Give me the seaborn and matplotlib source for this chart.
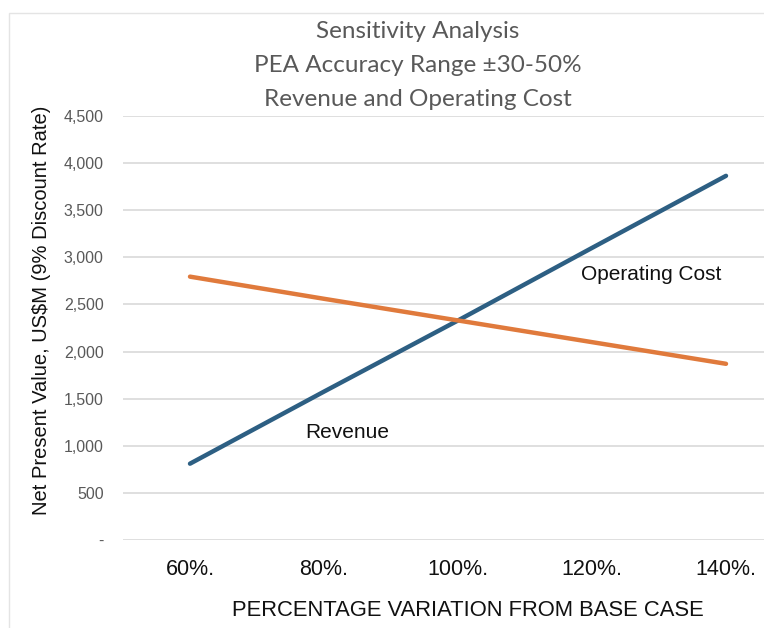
import matplotlib
matplotlib.use("Agg")
import matplotlib.pyplot as plt
import matplotlib.ticker as mticker
import seaborn as sns
import pandas as pd

categories = ["60%.", "80%.", "100%.", "120%.", "140%."]
revenue = [810, 1575, 2330, 3100, 3865]
operating_cost = [2795, 2560, 2330, 2100, 1870]
y_ticks = [0, 500, 1000, 1500, 2000, 2500, 3000, 3500, 4000, 4500]

df = pd.DataFrame({
    "pos": list(range(len(categories))) * 2,
    "value": revenue + operating_cost,
    "series": ["Revenue"] * len(categories) + ["Operating Cost"] * len(categories),
})

sns.set_theme(style="white")
plt.rcParams['font.family'] = ['Liberation Sans', 'DejaVu Sans']

W, H = 764, 628
fig = plt.figure(figsize=(W / 100, H / 100), dpi=100)
ax = fig.add_axes([123 / W, 1 - 540 / H, 670 / W, 424 / H])

# chart frame
fig.patches.append(plt.Rectangle((9 / W, -0.1), 1.2, 1 - 13 / H + 0.1, transform=fig.transFigure,
                                 fill=False, edgecolor="#e4e4e4", linewidth=1))

sns.lineplot(data=df, x="pos", y="value", hue="series",
             palette={"Revenue": "#2d5f83", "Operating Cost": "#e07a3c"},
             linewidth=3.2, ax=ax, legend=False, solid_capstyle="round")

ax.set_xlim(-0.5, 4.5)
ax.set_ylim(0, 4500)
ax.set_xticks(range(len(categories)))
ax.set_xticklabels(categories, fontsize=15.5, color="#111111")
ax.set_yticks(y_ticks)
ax.yaxis.set_major_formatter(mticker.FuncFormatter(lambda v, p: "-" if v == 0 else f"{int(v):,}"))
ax.tick_params(axis="y", labelsize=11.5, colors="#595959", length=0, pad=14)
ax.tick_params(axis="x", length=0, pad=14)
ax.yaxis.grid(True, color="#d9d9d9", linewidth=1.2)
ax.set_axisbelow(True)
for s in ax.spines.values():
    s.set_visible(False)

ax.set_xlabel("")
ax.set_ylabel("")
fig.text(42 / W, 1 - 310 / H, "Net Present Value, US$M (9% Discount Rate)", fontsize=14.5,
         rotation=90, ha="center", va="center", color="#111111")
fig.text(468 / W, 1 - 610 / H, "PERCENTAGE VARIATION FROM BASE CASE", fontsize=15.8,
         ha="center", va="center", color="#111111")

title_lines = ["Sensitivity Analysis", "PEA Accuracy Range ±30-50%", "Revenue and Operating Cost"]
for i, t in enumerate(title_lines):
    fig.text(418 / W, 1 - (31 + 34 * i) / H, t, fontsize=17.5, ha="center", va="center",
             color="#595959", family=["Lato", "DejaVu Sans"])

ax.text(3.44, 2813, "Operating Cost", fontsize=15, color="#111111", ha="center", va="center")
ax.text(1.17, 1140, "Revenue", fontsize=15, color="#111111", ha="center", va="center")

fig.savefig("out.png", dpi=100)
